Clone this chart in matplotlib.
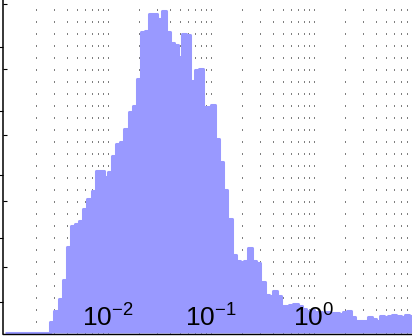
import numpy as np
import matplotlib
matplotlib.use("Agg")
import matplotlib.pyplot as plt
from matplotlib.ticker import FixedLocator, LogLocator, NullLocator

plt.rcParams['font.family'] = ['Liberation Sans', 'DejaVu Sans']
plt.rcParams['mathtext.fontset'] = 'custom'
plt.rcParams['mathtext.rm'] = 'Liberation Sans'
plt.rcParams['mathtext.it'] = 'Liberation Sans:italic'
plt.rcParams['mathtext.bf'] = 'Liberation Sans:bold'
plt.rcParams['lines.scale_dashes'] = False

# ---- data ----
log_start = -3.0          # first bin edge (log10)
bins_per_decade = 25
counts = [0, 0, 0, 0, 0, 0, 0, 0, 0, 0, 0,
          0.16, 0.33, 0.51, 0.80, 1.30, 1.62, 1.65, 1.69, 1.88, 2.03,
          2.15, 2.45, 2.45, 2.36, 2.44, 2.68, 2.86, 2.90, 3.09, 3.35,
          3.44, 3.85, 4.57, 4.58, 4.84, 4.84, 4.76, 4.89, 4.57, 4.40,
          4.37, 4.19, 4.54, 4.52, 3.82, 3.99, 4.00, 3.43, 3.43, 3.46,
          2.94, 2.59, 2.17, 1.72, 1.18, 1.09, 1.07, 1.09, 1.28, 1.09,
          1.06, 0.77, 0.57, 0.55, 0.63, 0.55, 0.40, 0.40, 0.42, 0.43,
          0.40, 0.36, 0.33, 0.34, 0.31, 0.31, 0.30, 0.31, 0.30, 0.30,
          0.28, 0.31, 0.33, 0.24, 0.17, 0.17, 0.17, 0.24, 0.21, 0.17,
          0.25, 0.24, 0.25, 0.27, 0.25, 0.24, 0.27, 0.25, 0.25]
xtick_values = [1e-2, 1e-1, 1e0]
xtick_labels = [r'$10^{-2}$', r'$10^{-1}$', r'$10^{0}$']
ytick_major = [1, 2, 3, 4, 5]
ytick_minor = [0.47, 1.43, 2.39, 3.36, 4.34]

edges = 10 ** (log_start + np.arange(len(counts) + 1) / bins_per_decade)

FW, FH = 412, 336
PX_PER_UNIT = 65.8
fig = plt.figure(figsize=(FW / 100, FH / 100), dpi=100)
pos = [3.3 / FW, 2.2 / FH, (417 - 3.3) / FW, 342 / FH]
xlim = (10 ** -3.0165, 10 ** 1.0)
y0 = -1.3 / PX_PER_UNIT
ylim = (y0, y0 + 342 / PX_PER_UNIT)

# background axes: dotted grid only
axg = fig.add_axes(pos, zorder=0)
axg.set_xscale('log')
axg.set_xlim(*xlim)
axg.set_ylim(*ylim)
axg.xaxis.set_major_locator(FixedLocator(xtick_values))
axg.xaxis.set_minor_locator(LogLocator(base=10, subs=np.arange(2, 10)))
axg.grid(which='both', axis='x', color='black', linewidth=0.72,
         linestyle=(0, (0.72, 7.92)))
axg.tick_params(which='both', length=0, labelbottom=False, labelleft=False)
for s in axg.spines.values():
    s.set_visible(False)

# main axes
ax = fig.add_axes(pos, zorder=1)
ax.patch.set_visible(False)
ax.set_xscale('log')
ax.set_xlim(*xlim)
ax.set_ylim(*ylim)
ax.stairs(counts, edges, baseline=0, fill=True, facecolor='#9999ff',
          edgecolor='#9999ff', linewidth=2.2, joinstyle='round')

ax.set_xticks(xtick_values, labels=xtick_labels)
ax.xaxis.set_minor_locator(NullLocator())
ax.tick_params(axis='x', which='major', length=0, pad=-21, labelsize=19,
               labelcolor='black')
ax.yaxis.set_major_locator(FixedLocator(ytick_major))
ax.yaxis.set_minor_locator(FixedLocator(ytick_minor))
ax.tick_params(axis='y', which='major', direction='in', length=3, width=0.8,
               labelleft=False)
ax.tick_params(axis='y', which='minor', direction='out', length=3, width=0.8,
               labelleft=False)
ax.spines['top'].set_visible(False)
ax.spines['right'].set_visible(False)
ax.spines['left'].set_linewidth(1.1)
ax.spines['bottom'].set_linewidth(1.0)

fig.savefig('out.png', dpi=100)
